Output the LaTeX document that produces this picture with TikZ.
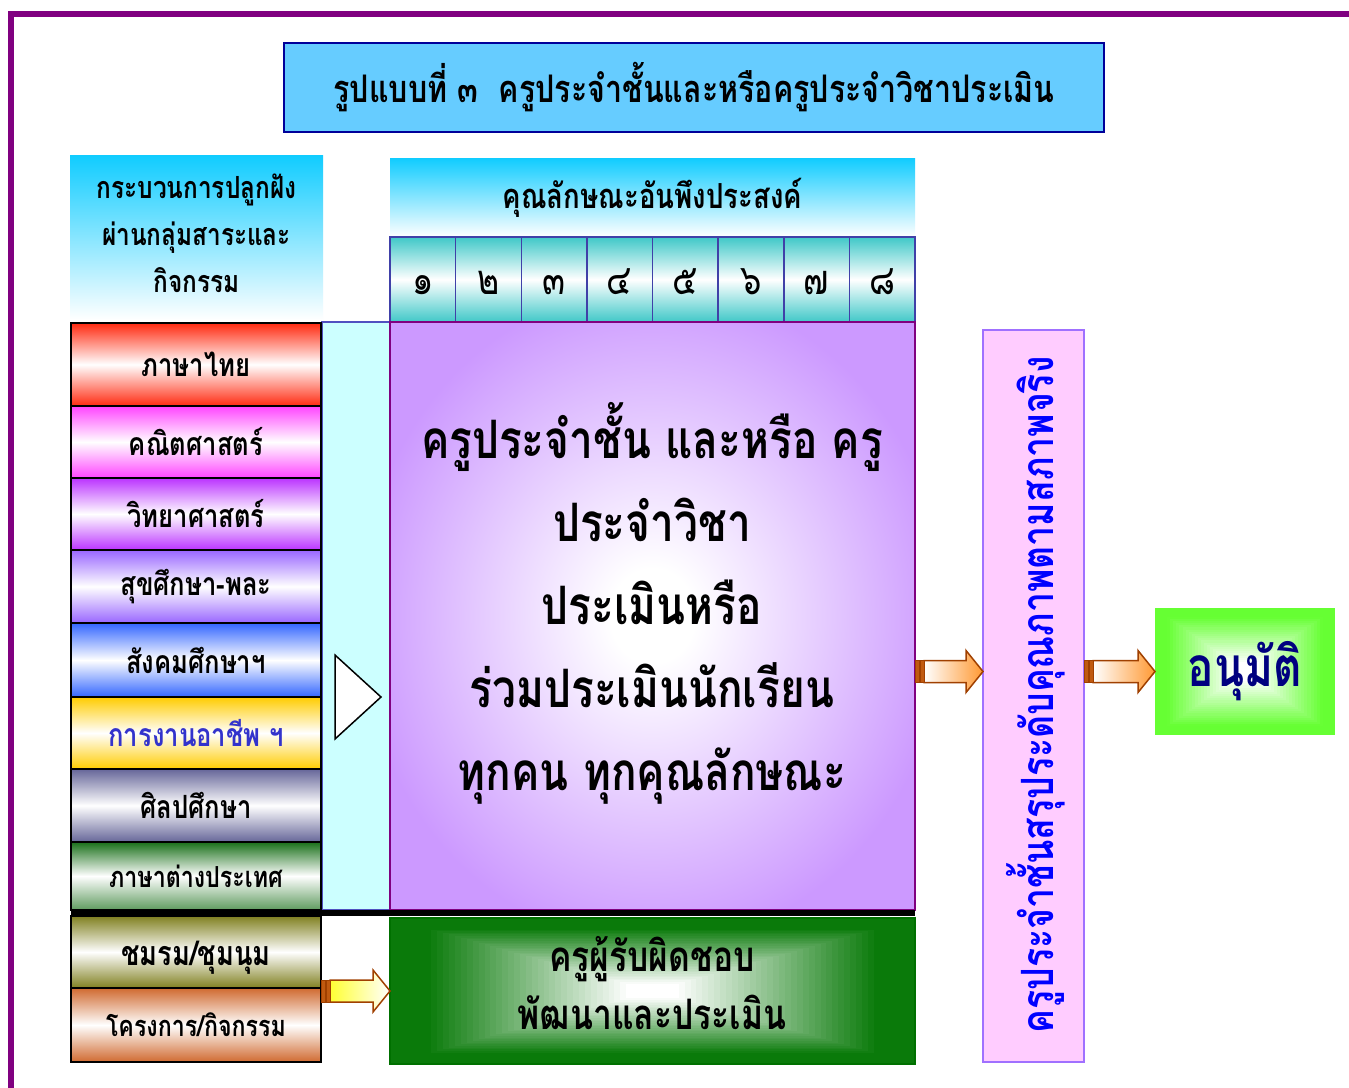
\documentclass[tikz,border=0pt]{standalone}
\usepackage{fontspec}
\setmainfont[Script=Thai,FakeStretch=0.8]{Loma}
\usetikzlibrary{calc}
\definecolor{framec}{HTML}{800080}
\definecolor{titlef}{HTML}{66CCFF}
\definecolor{titleb}{HTML}{000099}
\definecolor{hdrtop}{HTML}{10CCFF}
\definecolor{tealc}{HTML}{40C8C8}
\definecolor{cellb}{HTML}{4040A8}
\definecolor{purpc}{HTML}{CC99FF}
\definecolor{purpb}{HTML}{800080}
\definecolor{cyanf}{HTML}{CCFFFF}
\definecolor{cyanb}{HTML}{5050C0}
\definecolor{cRed}{HTML}{FF2A10}
\definecolor{cMag}{HTML}{FF44FF}
\definecolor{cVio}{HTML}{BB33FF}
\definecolor{cLav}{HTML}{9966FF}
\definecolor{cBlu}{HTML}{3366FF}
\definecolor{cGold}{HTML}{FFCC00}
\definecolor{cSlate}{HTML}{666699}
\definecolor{cForest}{HTML}{1A701A}
\definecolor{cOlive}{HTML}{808020}
\definecolor{cRust}{HTML}{D06A30}
\definecolor{greenc}{HTML}{0A7A0A}
\definecolor{greenb}{HTML}{007000}
\definecolor{pinkf}{HTML}{FFCCFF}
\definecolor{pinkb}{HTML}{A070FF}
\definecolor{limec}{HTML}{66FF33}
\definecolor{navyc}{HTML}{000080}
\definecolor{arrowb}{HTML}{A04000}
\definecolor{arrowt}{HTML}{C05A10}
\definecolor{orangec}{HTML}{FF9933}
\definecolor{yellowc}{HTML}{FFFF33}
\definecolor{bluetxt}{HTML}{3333CC}
\definecolor{vtxt}{HTML}{0000FF}

\pgfdeclareradialshading{purpglow}{\pgfpoint{0bp}{0bp}}{%
  color(0bp)=(white); color(4bp)=(white); color(28bp)=(purpc); color(50bp)=(purpc)}

% rectangular (path-like) gradient: x1 y1 x2 y2 colour extent steps flat-fraction
\newcommand\boxgrad[8]{%
  \foreach \gi in {0,...,#7}{%
    \pgfmathsetmacro\gf{\gi/#7}%
    \pgfmathsetmacro\gp{100*min(1,(1-\gf)/(1-#8))}%
    \pgfmathsetmacro\gdx{\gf*#6*(#3-#1)/2}%
    \pgfmathsetmacro\gdy{\gf*#6*(#4-#2)/2}%
    \fill[#5!\gp!white] ({#1+\gdx},{#2+\gdy}) rectangle ({#3-\gdx},{#4-\gdy});
  }}

% block arrow from coordinate #1 (x) to #2 (x,y)
\newcommand\blockarrow[4]{%
  \draw[draw=arrowb, line width=1.5pt, left color=#3, right color=#4, line join=miter]
    let \p1=(#1), \p2=(#2) in
    ({\x1+9pt},{\y2+11pt}) -- ({\x2-17pt},{\y2+11pt}) -- ({\x2-17pt},{\y2+21pt}) --
    (\x2,\y2) -- ({\x2-17pt},{\y2-21pt}) -- ({\x2-17pt},{\y2-11pt}) --
    ({\x1+9pt},{\y2-11pt}) -- cycle;
  \draw[draw=arrowb, line width=1pt, fill=arrowt]
    let \p1=(#1), \p2=(#2) in
    ({\x1+0.5pt},{\y2-11pt}) rectangle ({\x1+4pt},{\y2+11pt})
    ({\x1+5pt},{\y2-11pt}) rectangle ({\x1+9pt},{\y2+11pt});
}

\tikzset{
  box/.style={anchor=north west, inner sep=0pt, outer sep=0pt},
  subj/.style={box, draw=black, line width=1.5pt, minimum width=250pt,
    middle color=white, font=\bfseries\fontsize{32}{38}\selectfont},
  numcell/.style={box, draw=cellb, line width=1.5pt, minimum width=65.625pt,
    minimum height=85pt, top color=tealc, bottom color=tealc, middle color=white,
    font=\fontsize{42}{48}\selectfont},
}

\begin{document}
\begin{tikzpicture}[x=1pt,y=-1pt]
\useasboundingbox (0,0) rectangle (1349,1087);
\fill[white] (0,0) rectangle (1349,1087);

% outer frame (top and left)
\draw[framec, line width=6pt] (11,1090) -- (11,14) -- (1352,14);

% title
\node[box, draw=titleb, line width=2pt, fill=titlef, minimum width=820pt,
  minimum height=89pt, font=\bfseries\fontsize{38}{46}\selectfont] (title) at (284,43)
  {รูปแบบที่ ๓ \ ครูประจำชั้นและหรือครูประจำวิชาประเมิน};

% left header
\node[box, minimum width=253pt, minimum height=165pt, top color=hdrtop,
  bottom color=white] (lhdr) at (70,155) {};
\node[align=center, font=\bfseries\fontsize{30.5}{47}\selectfont] (lhdrlbl)
  at (196.5,233.5) {กระบวนการปลูกฝัง\\ผ่านกลุ่มสาระและ\\กิจกรรม};

% top header
\node[box, minimum width=525pt, minimum height=79pt, top color=hdrtop,
  bottom color=white, font=\bfseries\fontsize{34.5}{40}\selectfont]
  (thdr) at (390,158) {คุณลักษณะอันพึงประสงค์};

% number cells
\foreach \i/\d in {0/๑,1/๒,2/๓,3/๔,4/๕,5/๖,6/๗,7/๘}{
  \node[numcell] (n\i) at ({390+\i*65.625},237) {\raisebox{-15pt}[0pt][0pt]{\d}};
}

% cyan strip
\node[box, draw=cyanb, line width=1.5pt, fill=cyanf, minimum width=68pt,
  minimum height=588pt] (strip) at (322,322) {};
\draw[black, line width=1.5pt, fill=white] (335,655) -- (381,697) -- (335,739) -- cycle;

% main purple box
\node[box, draw=purpb, line width=2.5pt, minimum width=525pt, minimum height=588pt,
  shading=purpglow] (main) at (390,322) {};
\node[align=center, font=\bfseries\fontsize{53}{83}\selectfont] (mainlbl)
  at (652,603.5) {ครูประจำชั้น และหรือ ครู\\ประจำวิชา\\ประเมินหรือ\\ร่วมประเมินนักเรียน\\ทุกคน ทุกคุณลักษณะ};

% subject boxes
\node[subj, minimum height=83pt, top color=cRed, bottom color=cRed, middle color=white] (s1) at (71,323) {ภาษาไทย};
\node[subj, minimum height=72pt, top color=cMag, bottom color=cMag, middle color=white] (s2) at (71,406) {คณิตศาสตร์};
\node[subj, minimum height=72pt, top color=cVio, bottom color=cVio, middle color=white] (s3) at (71,478) {วิทยาศาสตร์};
\node[subj, minimum height=73pt, top color=cLav, bottom color=cLav, middle color=white] (s4) at (71,550) {สุขศึกษา-พละ};
\node[subj, minimum height=74pt, top color=cBlu, bottom color=cBlu, middle color=white] (s5) at (71,623) {สังคมศึกษาฯ};
\node[subj, minimum height=72pt, top color=cGold, bottom color=cGold, middle color=white, text=bluetxt] (s6) at (71,697) {การงานอาชีพ ฯ};
\node[subj, minimum height=73pt, top color=cSlate, bottom color=cSlate, middle color=white] (s7) at (71,769) {ศิลปศึกษา};
\node[subj, minimum height=68pt, top color=cForest, bottom color=cForest!70!white, middle color=white,
  font=\bfseries\fontsize{29}{34}\selectfont] (s8) at (71,842) {ภาษาต่างประเทศ};
\node[subj, minimum height=72pt, top color=cOlive, bottom color=cOlive, middle color=white,
  font=\bfseries\fontsize{34}{40}\selectfont] (s9) at (71,916) {\raisebox{-13pt}[0pt][0pt]{ชมรม/ชุมนุม}};
\node[subj, minimum height=74pt, top color=cRust, bottom color=cRust, middle color=white,
  font=\bfseries\fontsize{29}{34}\selectfont] (s10) at (71,988) {โครงการ/กิจกรรม};

% separator
\draw[black, line width=6pt] (71,913) -- (915,913);

% green box
\boxgrad{390}{918}{915}{1064}{greenc}{0.9}{40}{0.15}
\node[box, draw=greenb, line width=1.5pt, minimum width=525pt, minimum height=146pt]
  (green) at (390,918) {};
\node[align=center, font=\bfseries\fontsize{42}{58}\selectfont] (greenlbl)
  at (652,983.5) {ครูผู้รับผิดชอบ\\พัฒนาและประเมิน};

% pink vertical box
\node[box, draw=pinkb, line width=2pt, fill=pinkf, minimum width=101pt,
  minimum height=732pt] (pinkbox) at (983,330) {};
\node[rotate=90, text=vtxt, font=\bfseries\fontsize{44.5}{50}\selectfont] (vlbl)
  at (1036,695) {ครูประจำชั้นสรุประดับคุณภาพตามสภาพจริง};

% approve box
\boxgrad{1155}{608}{1335}{735}{limec}{0.85}{25}{0.15}
\node[box, minimum width=180pt, minimum height=127pt, text=navyc,
  font=\bfseries\fontsize{55}{60}\selectfont] (approve) at (1155,608) {อนุมัติ};

% arrows
\coordinate (a1s) at (main.east |- approve.west);
\coordinate (a1e) at (pinkbox.west |- approve.west);
\coordinate (a2s) at (pinkbox.east |- approve.west);
\coordinate (a3s) at (s9.east |- green.west);
\blockarrow{a1s}{a1e}{white}{orangec}
\blockarrow{a2s}{approve.west}{white}{orangec}
\blockarrow{a3s}{green.west}{yellowc}{white}
\end{tikzpicture}
\end{document}
